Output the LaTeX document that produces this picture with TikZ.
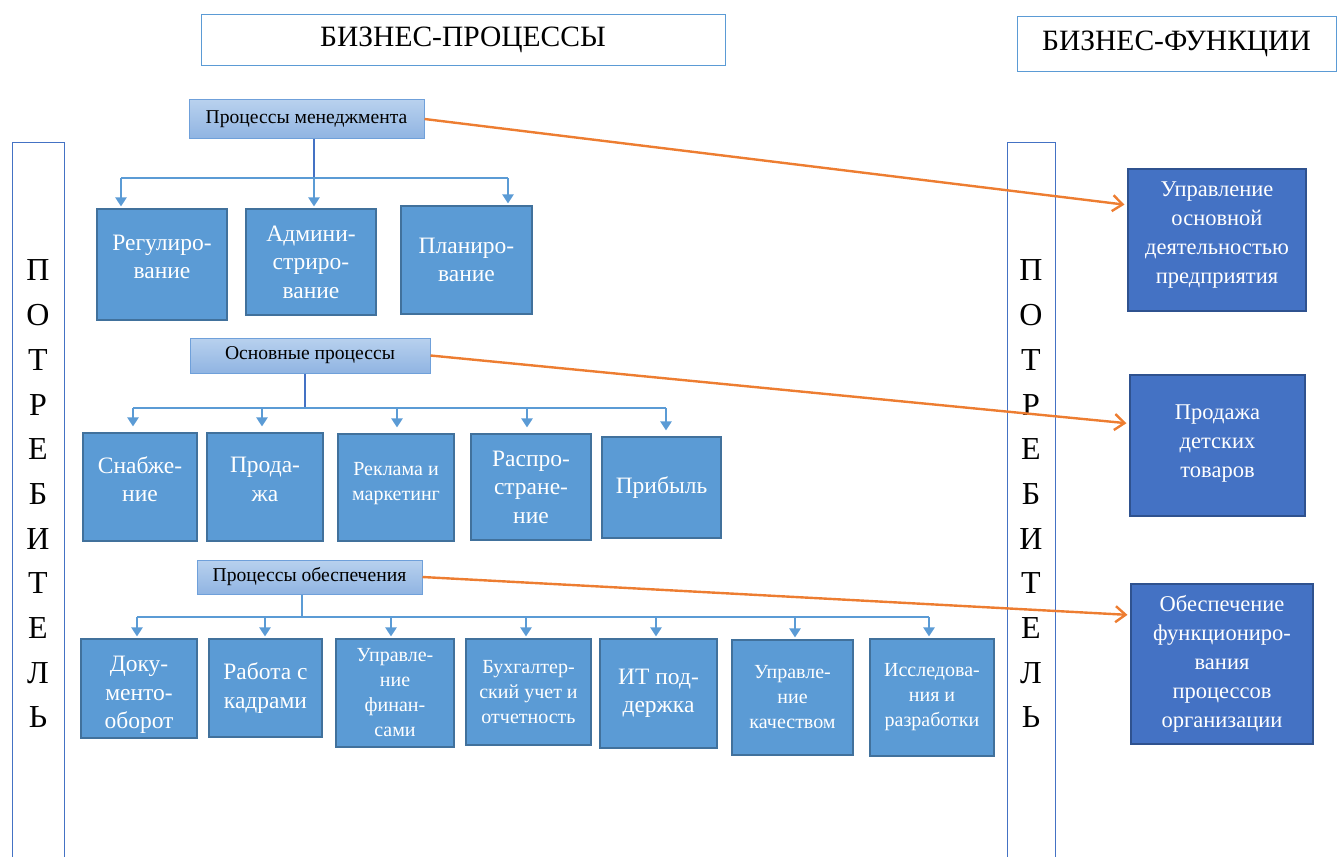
\documentclass[tikz,border=0pt]{standalone}
\usepackage{fontspec}
\setmainfont{Liberation Serif}
\usetikzlibrary{arrows.meta}

\definecolor{boxblue}{HTML}{5B9BD5}
\definecolor{boxedge}{HTML}{41719C}
\definecolor{fnblue}{HTML}{4472C4}
\definecolor{fnedge}{HTML}{2F528F}
\definecolor{orangeln}{HTML}{ED7D31}
\definecolor{hdtop}{HTML}{B8D1EE}
\definecolor{hdbot}{HTML}{90B4E2}
\definecolor{hdedge}{HTML}{6FA0DA}
\definecolor{trunkblue}{HTML}{4472C4}

\tikzset{
  titlebox/.style={draw=boxblue, line width=0.9pt, fill=white, inner sep=0pt,
    font=\fontsize{29.5}{33}\selectfont},
  headbox/.style={draw=hdedge, line width=1pt, top color=hdtop, bottom color=hdbot,
    inner sep=0pt, font=\fontsize{19.6}{22}\selectfont},
  pbox/.style={draw=boxedge, fill=boxblue, line width=1.1pt, text=white,
    align=center, inner sep=1pt},
  fbox/.style={draw=fnedge, fill=fnblue, line width=1.1pt, text=white,
    align=center, inner sep=1pt, font=\fontsize{22.5}{29}\selectfont},
  bigtxt/.style={font=\fontsize{23.5}{28.5}\selectfont},
  midtxt/.style={font=\fontsize{20}{25}\selectfont},
  smalltxt/.style={font=\fontsize{20}{25}\selectfont},
  consumer/.style={draw=trunkblue, line width=0.9pt, inner sep=0pt},
  letters/.style={align=center, inner sep=0pt, font=\fontsize{32}{44.7}\selectfont},
  trunk/.style={draw=trunkblue, line width=2.8pt},
  hbar/.style={draw=boxblue, line width=2.8pt},
  barrow/.style={draw=boxblue, line width=2.8pt,
    -{Triangle[width=11pt,length=9pt]}, shorten >=2pt},
  oarrow/.style={draw=orangeln, line width=2.4pt,
    -{Straight Barb[width=16pt,length=10pt,line width=2.4pt]}, shorten >=3pt}
}

\begin{document}
\begin{tikzpicture}[x=1pt,y=-1pt]
\useasboundingbox (0,0) rectangle (1337,856);

% section titles
\node[titlebox, minimum width=524pt, minimum height=51pt] (bp) at (463,40) {БИЗНЕС-ПРОЦЕССЫ};
\node[titlebox, minimum width=319pt, minimum height=55pt] (bf) at (1176.5,43.5) {БИЗНЕС-ФУНКЦИИ};

% consumer columns
\node[consumer, minimum width=52pt, minimum height=720pt] (cl) at (38,502) {};
\node[letters] (cltxt) at (38,494) {П\\О\\Т\\Р\\Е\\Б\\И\\Т\\Е\\Л\\Ь};
\node[consumer, minimum width=48pt, minimum height=720pt] (cr) at (1031,502) {};
\node[letters] (crtxt) at (1031,494) {П\\О\\Т\\Р\\Е\\Б\\И\\Т\\Е\\Л\\Ь};

% management processes
\node[headbox, minimum width=235pt, minimum height=38pt] (mgmt) at (306.5,119) {Процессы менеджмента};
\node[pbox, bigtxt, minimum width=130pt, minimum height=111pt] (reg) at (162,264.5) {Регулиро-\\вание\\[-13pt]\mbox{}};
\node[pbox, bigtxt, minimum width=130pt, minimum height=106pt] (adm) at (311,262) {Админи-\\стриро-\\вание};
\node[pbox, bigtxt, minimum width=131pt, minimum height=108pt] (plan) at (466.5,260) {Планиро-\\вание};

% core processes
\node[headbox, minimum width=240pt, minimum height=35pt] (core) at (310,355.5) {Основные процессы};
\node[pbox, bigtxt, minimum width=114pt, minimum height=108pt] (sup) at (140,487) {Снабже-\\ние\\[-13pt]\mbox{}};
\node[pbox, bigtxt, minimum width=116pt, minimum height=108pt] (sale) at (265,487) {Прода-\\жа\\[-13pt]\mbox{}};
\node[pbox, smalltxt, minimum width=116pt, minimum height=107pt] (adv) at (396,487.5) {Реклама и\\маркетинг\\[-12pt]\mbox{}};
\node[pbox, bigtxt, minimum width=120pt, minimum height=106pt] (dist) at (531,487) {Распро-\\стране-\\ние};
\node[pbox, bigtxt, minimum width=119pt, minimum height=101pt] (prof) at (661.5,487.5) {Прибыль};

% support processes
\node[headbox, minimum width=225pt, minimum height=34pt] (supp) at (309.5,577) {Процессы обеспечения};
\node[pbox, bigtxt, minimum width=116pt, minimum height=99pt] (doc) at (139,688.5) {\mbox{}\\Доку-\\менто-\\оборот};
\node[pbox, bigtxt, minimum width=113pt, minimum height=98pt] (hr) at (265.5,688) {Работа с\\кадрами};
\node[pbox, smalltxt, minimum width=118pt, minimum height=108pt] (fin) at (395,693) {Управле-\\ние\\финан-\\сами};
\node[pbox, smalltxt, minimum width=125pt, minimum height=106pt] (acc) at (528.5,692) {Бухгалтер-\\ский учет и\\отчетность};
\node[pbox, bigtxt, minimum width=117pt, minimum height=109pt] (it) at (658.5,693.5) {ИТ под-\\держка};
\node[pbox, smalltxt, minimum width=121pt, minimum height=115pt] (qual) at (792.5,697.5) {Управле-\\ние\\качеством};
\node[pbox, midtxt, minimum width=124pt, minimum height=117pt] (rnd) at (932,697.5) {Исследова-\\ния и\\разработки};

% business functions
\node[fbox, minimum width=178pt, minimum height=142pt] (f1) at (1217,240) {Управление\\основной\\деятельностью\\предприятия\\[-14pt]\mbox{}};
\node[fbox, minimum width=175pt, minimum height=141pt] (f2) at (1217.5,445.5) {Продажа\\детских\\товаров\\[-20pt]\mbox{}};
\node[fbox, minimum width=182pt, minimum height=160pt] (f3) at (1222,664) {Обеспечение\\функциониро-\\вания\\процессов\\организации};

% tree connectors: management
\draw[trunk] (314,0 |- mgmt.south) -- (314,178);
\draw[hbar] (121,178) -- (508,178);
\foreach \n/\x in {reg/121, adm/314, plan/508}
  \draw[barrow] (\x,178) -- (\x,0 |- \n.north);

% tree connectors: core
\draw[trunk] (305,0 |- core.south) -- (305,408);
\draw[hbar] (133,408) -- (666,408);
\foreach \n/\x in {sup/133, sale/262, adv/397, dist/527, prof/666}
  \draw[barrow] (\x,408) -- ([yshift=4pt]\x,0 |- \n.north);

% tree connectors: support
\draw[hbar] (302,0 |- supp.south) -- (302,617);
\draw[hbar] (137,617) -- (929,617);
\foreach \n/\x in {doc/137, hr/265, fin/391, acc/526, it/656, qual/795, rnd/929}
  \draw[barrow] (\x,617) -- (\x,0 |- \n.north);

% process groups to business functions
\draw[oarrow] (mgmt.east) -- ([yshift=35pt]f1.west);
\draw[oarrow] (core.east) -- ([yshift=22pt]f2.west);
\draw[oarrow] (supp.east) -- ([yshift=49pt]f3.west);
\end{tikzpicture}
\end{document}
